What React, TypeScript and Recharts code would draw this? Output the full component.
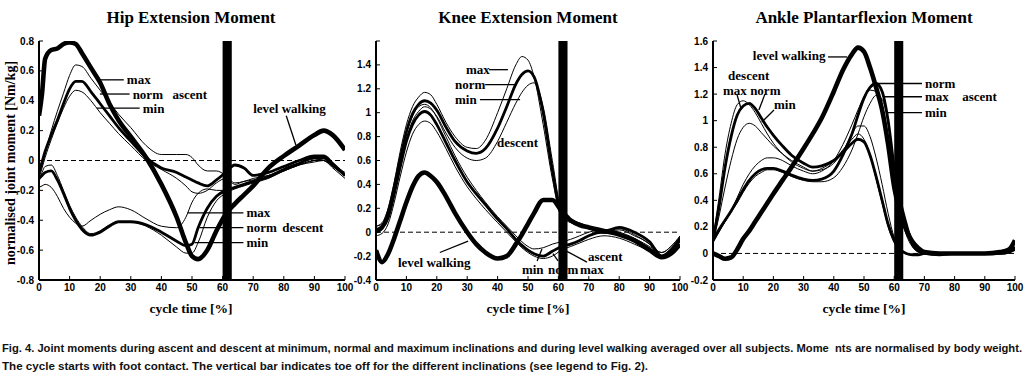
import React from 'react';
import { LineChart, Line, XAxis, YAxis, ReferenceLine, ReferenceArea, ReferenceDot } from 'recharts';

// cycle time ticks (all panels)
const X_TICKS = [0, 10, 20, 30, 40, 50, 60, 70, 80, 90, 100];
const TOE_OFF = [60, 63];

// ---------- hip ----------
const HIP_TICKS = [-0.8, -0.6, -0.4, -0.2, 0, 0.2, 0.4, 0.6, 0.8];
const HIP_X = [0, 1, 2, 4, 6, 8, 10, 12, 14, 17, 20, 23, 26, 30, 35, 40, 45, 48, 50, 52, 55, 58, 61, 64, 67, 70, 75, 80, 85, 90, 93, 96, 100];
const HIP_LEVEL = [0.3, 0.45, 0.68, 0.74, 0.75, 0.78, 0.79, 0.78, 0.72, 0.62, 0.52, 0.38, 0.27, 0.16, 0.02, -0.16, -0.38, -0.55, -0.64, -0.66, -0.6, -0.47, -0.36, -0.29, -0.23, -0.17, -0.05, 0.03, 0.1, 0.17, 0.2, 0.17, 0.07];
const HIP_ASC_MAX = [-0.1, -0.03, 0.05, 0.2, 0.33, 0.45, 0.57, 0.64, 0.63, 0.55, 0.47, 0.39, 0.31, 0.22, 0.1, 0.04, 0.04, 0.04, 0.02, -0.03, -0.07, -0.07, -0.1, -0.15, -0.14, -0.12, -0.1, -0.07, -0.03, -0.01, 0.0, -0.03, -0.08];
const HIP_ASC_NORM = [-0.08, -0.01, 0.06, 0.17, 0.27, 0.38, 0.48, 0.53, 0.53, 0.46, 0.38, 0.3, 0.22, 0.13, 0.02, -0.05, -0.08, -0.11, -0.13, -0.15, -0.17, -0.13, -0.08, -0.03, -0.05, -0.1, -0.08, -0.04, 0.0, 0.03, 0.03, -0.02, -0.1];
const HIP_ASC_MIN = [-0.12, -0.05, 0.02, 0.14, 0.25, 0.35, 0.43, 0.47, 0.46, 0.4, 0.32, 0.25, 0.18, 0.1, 0.0, -0.06, -0.12, -0.17, -0.21, -0.22, -0.2, -0.15, -0.12, -0.16, -0.14, -0.13, -0.1, -0.06, -0.02, 0.01, 0.0, -0.04, -0.1];
const HIP_DESC_MAX = [-0.18, -0.17, -0.16, -0.18, -0.24, -0.32, -0.38, -0.42, -0.44, -0.4, -0.36, -0.33, -0.31, -0.33, -0.39, -0.44, -0.45, -0.38, -0.28, -0.22, -0.19, -0.2, -0.2, -0.18, -0.16, -0.14, -0.11, -0.07, -0.03, 0.0, 0.01, -0.04, -0.1];
const HIP_DESC_NORM = [-0.12, -0.1, -0.08, -0.07, -0.13, -0.22, -0.32, -0.4, -0.46, -0.5, -0.48, -0.44, -0.41, -0.41, -0.43, -0.48, -0.54, -0.57, -0.56, -0.45, -0.32, -0.24, -0.2, -0.18, -0.16, -0.14, -0.11, -0.06, -0.02, 0.02, 0.02, -0.03, -0.1];
const HIP_DESC_MIN = [-0.14, -0.08, -0.04, -0.03, -0.1, -0.2, -0.3, -0.38, -0.44, -0.49, -0.47, -0.43, -0.41, -0.41, -0.44, -0.5, -0.58, -0.62, -0.62, -0.55, -0.38, -0.27, -0.22, -0.19, -0.17, -0.15, -0.12, -0.07, -0.03, 0.0, 0.0, -0.05, -0.12];

// ---------- knee ----------
const KNEE_TICKS = [-0.4, -0.2, 0, 0.2, 0.4, 0.6, 0.8, 1, 1.2, 1.4, 1.6];
const KNEE_X = [0, 2, 4, 6, 8, 10, 12, 14, 16, 18, 20, 23, 26, 30, 33, 36, 40, 43, 46, 48, 50, 52, 55, 58, 61, 64, 67, 70, 75, 80, 85, 90, 94, 97, 100];
const KNEE_LEVEL = [-0.15, -0.25, -0.18, -0.05, 0.1, 0.25, 0.38, 0.47, 0.5, 0.47, 0.42, 0.3, 0.16, 0.0, -0.1, -0.17, -0.22, -0.2, -0.1, -0.02, 0.07, 0.16, 0.27, 0.27, 0.18, 0.1, 0.06, 0.04, 0.01, -0.02, -0.07, -0.15, -0.21, -0.18, -0.1];
const KNEE_DESC_MAX = [0.05, 0.08, 0.2, 0.42, 0.68, 0.9, 1.05, 1.13, 1.17, 1.15, 1.07, 0.92, 0.8, 0.71, 0.7, 0.77, 1.0, 1.2, 1.4, 1.47, 1.44, 1.3, 0.9, 0.45, 0.13, 0.08, 0.05, 0.03, 0.0, 0.03, -0.02, -0.1, -0.17, -0.12, -0.04];
const KNEE_DESC_NORM = [0.02, 0.05, 0.17, 0.38, 0.62, 0.84, 0.99, 1.07, 1.1, 1.08, 1.02, 0.88, 0.76, 0.68, 0.66, 0.7, 0.87, 1.05, 1.24, 1.32, 1.35, 1.3, 1.0, 0.52, 0.15, 0.1, 0.07, 0.04, 0.01, 0.04, 0.0, -0.08, -0.2, -0.15, -0.06];
const KNEE_DESC_MIN = [0.0, 0.03, 0.14, 0.34, 0.57, 0.78, 0.93, 1.01, 1.05, 1.03, 0.97, 0.83, 0.71, 0.62, 0.6, 0.62, 0.76, 0.92, 1.08, 1.17, 1.23, 1.25, 1.05, 0.6, 0.18, 0.1, 0.06, 0.03, -0.01, 0.02, -0.03, -0.1, -0.22, -0.18, -0.08];
const KNEE_ASC_MAX = [0.05, 0.07, 0.17, 0.38, 0.62, 0.83, 0.97, 1.05, 1.07, 1.04, 0.96, 0.8, 0.64, 0.46, 0.35, 0.25, 0.13, 0.05, -0.03, -0.08, -0.12, -0.14, -0.13, -0.1, -0.08, -0.06, -0.03, 0.0, 0.02, 0.0, -0.05, -0.12, -0.17, -0.12, -0.03];
const KNEE_ASC_NORM = [0.0, 0.03, 0.12, 0.32, 0.55, 0.76, 0.9, 0.98, 1.01, 0.98, 0.9, 0.75, 0.6, 0.42, 0.32, 0.23, 0.11, 0.03, -0.06, -0.11, -0.15, -0.18, -0.2, -0.16, -0.12, -0.1, -0.07, -0.03, 0.0, -0.02, -0.07, -0.14, -0.2, -0.15, -0.05];
const KNEE_ASC_MIN = [-0.03, -0.01, 0.07, 0.25, 0.47, 0.67, 0.82, 0.9, 0.93, 0.91, 0.84, 0.7, 0.55, 0.38, 0.28, 0.19, 0.08, 0.0, -0.08, -0.13, -0.17, -0.2, -0.22, -0.2, -0.15, -0.12, -0.09, -0.06, -0.03, -0.05, -0.1, -0.16, -0.22, -0.17, -0.07];

// ---------- ankle ----------
const ANKLE_TICKS = [-0.2, 0, 0.2, 0.4, 0.6, 0.8, 1, 1.2, 1.4, 1.6];
const ANKLE_X = [0, 2, 4, 6, 8, 10, 12, 14, 16, 18, 20, 23, 26, 30, 33, 36, 40, 43, 46, 48, 50, 52, 54, 56, 58, 60, 62, 64, 66, 68, 70, 75, 80, 85, 90, 95, 98, 100];
const ANKLE_LEVEL = [0.0, -0.02, -0.04, -0.03, 0.03, 0.11, 0.17, 0.24, 0.31, 0.38, 0.45, 0.55, 0.65, 0.79, 0.9, 1.02, 1.22, 1.38, 1.5, 1.55, 1.52, 1.4, 1.25, 1.08, 0.82, 0.5, 0.3, 0.18, 0.09, 0.04, 0.01, 0.0, 0.0, 0.0, 0.0, 0.01, 0.03, 0.1];
const ANKLE_ASC_NORM = [0.1, 0.18, 0.25, 0.32, 0.4, 0.48, 0.55, 0.6, 0.63, 0.64, 0.64, 0.62, 0.59, 0.56, 0.55, 0.56, 0.62, 0.74, 0.9, 1.04, 1.17, 1.25, 1.28, 1.22, 1.0, 0.65, 0.4, 0.22, 0.07, 0.02, 0.0, -0.01, 0.0, 0.0, 0.0, 0.0, 0.01, 0.05];
const ANKLE_ASC_MAX = [0.08, 0.16, 0.24, 0.32, 0.42, 0.52, 0.6, 0.66, 0.7, 0.72, 0.72, 0.7, 0.66, 0.62, 0.6, 0.62, 0.7, 0.82, 0.97, 1.08, 1.18, 1.23, 1.22, 1.1, 0.85, 0.55, 0.3, 0.14, 0.05, 0.01, 0.0, 0.0, 0.0, 0.0, 0.0, 0.0, 0.01, 0.04];
const ANKLE_ASC_MIN = [0.09, 0.17, 0.24, 0.31, 0.38, 0.46, 0.53, 0.58, 0.61, 0.63, 0.63, 0.61, 0.58, 0.55, 0.54, 0.54, 0.57, 0.65, 0.78, 0.9, 1.03, 1.13, 1.19, 1.16, 0.98, 0.62, 0.36, 0.17, 0.06, 0.01, 0.0, -0.01, 0.0, 0.0, 0.0, 0.0, 0.01, 0.04];
const ANKLE_DESC_NORM = [0.1, 0.35, 0.65, 0.88, 1.04, 1.11, 1.13, 1.09, 1.02, 0.95, 0.89, 0.81, 0.74, 0.68, 0.65, 0.66, 0.7, 0.76, 0.83, 0.86, 0.84, 0.74, 0.58, 0.4, 0.22, 0.1, 0.03, 0.0, -0.01, -0.01, 0.0, 0.0, 0.0, 0.0, 0.0, 0.0, 0.01, 0.03];
const ANKLE_DESC_MAX = [0.12, 0.42, 0.75, 0.98, 1.12, 1.15, 1.12, 1.06, 0.98, 0.9, 0.83, 0.75, 0.69, 0.64, 0.62, 0.64, 0.7, 0.78, 0.86, 0.9, 0.86, 0.74, 0.56, 0.38, 0.2, 0.08, 0.02, 0.0, -0.01, -0.01, 0.0, 0.0, 0.0, 0.0, 0.0, 0.0, 0.01, 0.03];
const ANKLE_DESC_MIN = [0.08, 0.28, 0.5, 0.7, 0.86, 0.95, 0.98, 0.96, 0.91, 0.86, 0.81, 0.75, 0.7, 0.65, 0.62, 0.63, 0.68, 0.77, 0.9, 0.96, 0.96, 0.88, 0.72, 0.52, 0.3, 0.12, 0.03, 0.0, -0.01, -0.01, 0.0, 0.0, 0.0, 0.0, 0.0, 0.0, 0.01, 0.03];

const THIN = 1;
const NORM = 2.8;
const LEVEL = 4.6;

type Series = { key: string; values: number[]; width: number };
type Note = { x: number; y: number; text: string };
type Leader = [number, number, number, number];

const SERIF = '"Liberation Serif", "Times New Roman", serif';
const SANS = '"Liberation Sans", Arial, sans-serif';

function noteShape(text: string) {
  return (p: any) => (
    <text x={p.cx} y={p.cy} dominantBaseline="central" fontFamily={SERIF} fontWeight="bold" fontSize={13} fill="#000">
      {text}
    </text>
  );
}

function fmt(hideTop: number | null) {
  return (v: number) => (hideTop !== null && v === hideTop ? '' : String(Math.round(v * 10) / 10));
}

interface PanelProps {
  plotLeft: number;
  plotRight: number;
  xs: number[];
  series: Series[];
  yTicks: number[];
  hideTop: number | null;
  notes: Note[];
  leaders: Leader[];
}

function Panel({ plotLeft, plotRight, xs, series, yTicks, hideTop, notes, leaders }: PanelProps) {
  const rows = xs.map((x, i) => {
    const r: Record<string, number> = { x };
    series.forEach((s) => {
      r[s.key] = s.values[i];
    });
    return r;
  });
  const left = plotLeft - 40;
  const width = plotRight - left + 12;
  const yDomain: [number, number] = [yTicks[0], yTicks[yTicks.length - 1]];
  const axisLine = { stroke: '#000', strokeWidth: 2 };
  const tickStyle = { fill: '#000', fontSize: 10, fontWeight: 'bold', fontFamily: SANS };

  return (
    <div style={{ position: 'absolute', left, top: 0 }}>
      <LineChart width={width} height={372} data={rows} margin={{ top: 41, right: 12, bottom: 62, left: 10 }}>
        <XAxis
          dataKey="x"
          type="number"
          domain={[0, 100]}
          ticks={X_TICKS}
          interval={0}
          allowDataOverflow
          height={30}
          tickSize={-4}
          tickMargin={8}
          axisLine={axisLine}
          tickLine={{ stroke: '#000' }}
          tick={tickStyle}
        />
        <XAxis
          xAxisId="top"
          orientation="top"
          dataKey="x"
          type="number"
          domain={[0, 100]}
          ticks={X_TICKS}
          interval={0}
          allowDataOverflow
          height={0}
          tickSize={-4}
          axisLine={axisLine}
          tickLine={{ stroke: '#000' }}
          tick={false}
        />
        <YAxis
          type="number"
          domain={yDomain}
          ticks={yTicks}
          interval={0}
          allowDataOverflow
          width={30}
          tickSize={-4}
          tickMargin={9}
          axisLine={axisLine}
          tickLine={{ stroke: '#000' }}
          tick={tickStyle}
          tickFormatter={fmt(hideTop)}
        />
        <YAxis
          yAxisId="right"
          orientation="right"
          type="number"
          domain={yDomain}
          ticks={yTicks}
          interval={0}
          allowDataOverflow
          width={0}
          tickSize={-4}
          axisLine={axisLine}
          tickLine={{ stroke: '#000' }}
          tick={false}
        />
        <ReferenceLine y={0} stroke="#000" strokeWidth={1} strokeDasharray="5 3" />
        {leaders.map((l, i) => (
          <ReferenceLine
            key={'l' + i}
            segment={[{ x: l[0], y: l[1] }, { x: l[2], y: l[3] }]}
            stroke="#000"
            strokeWidth={1.3}
            ifOverflow="visible"
          />
        ))}
        {series.map((s) => (
          <Line
            key={s.key}
            dataKey={s.key}
            type="monotone"
            stroke="#000"
            strokeWidth={s.width}
            dot={false}
            activeDot={false}
            isAnimationActive={false}
          />
        ))}
        <ReferenceArea x1={TOE_OFF[0]} x2={TOE_OFF[1]} fill="#000" fillOpacity={1} stroke="none" ifOverflow="visible" />
        {notes.map((n, i) => (
          <ReferenceDot key={'n' + i} x={n.x} y={n.y} r={0} ifOverflow="visible" shape={noteShape(n.text)} />
        ))}
      </LineChart>
    </div>
  );
}

const HIP_SERIES: Series[] = [
  { key: 'ascMax', values: HIP_ASC_MAX, width: THIN },
  { key: 'ascMin', values: HIP_ASC_MIN, width: THIN },
  { key: 'descMax', values: HIP_DESC_MAX, width: THIN },
  { key: 'descMin', values: HIP_DESC_MIN, width: THIN },
  { key: 'ascNorm', values: HIP_ASC_NORM, width: NORM },
  { key: 'descNorm', values: HIP_DESC_NORM, width: NORM },
  { key: 'level', values: HIP_LEVEL, width: LEVEL },
];
const KNEE_SERIES: Series[] = [
  { key: 'ascMax', values: KNEE_ASC_MAX, width: THIN },
  { key: 'ascMin', values: KNEE_ASC_MIN, width: THIN },
  { key: 'descMax', values: KNEE_DESC_MAX, width: THIN },
  { key: 'descMin', values: KNEE_DESC_MIN, width: THIN },
  { key: 'ascNorm', values: KNEE_ASC_NORM, width: NORM },
  { key: 'descNorm', values: KNEE_DESC_NORM, width: NORM },
  { key: 'level', values: KNEE_LEVEL, width: LEVEL },
];
const ANKLE_SERIES: Series[] = [
  { key: 'ascMax', values: ANKLE_ASC_MAX, width: THIN },
  { key: 'ascMin', values: ANKLE_ASC_MIN, width: THIN },
  { key: 'descMax', values: ANKLE_DESC_MAX, width: THIN },
  { key: 'descMin', values: ANKLE_DESC_MIN, width: THIN },
  { key: 'ascNorm', values: ANKLE_ASC_NORM, width: NORM },
  { key: 'descNorm', values: ANKLE_DESC_NORM, width: NORM },
  { key: 'level', values: ANKLE_LEVEL, width: LEVEL },
];

const HIP_NOTES: Note[] = [
  { x: 28.7, y: 0.54, text: 'max' },
  { x: 30.6, y: 0.445, text: 'norm' },
  { x: 33.9, y: 0.35, text: 'min' },
  { x: 43.6, y: 0.445, text: 'ascent' },
  { x: 70, y: 0.35, text: 'level walking' },
  { x: 67.8, y: -0.35, text: 'max' },
  { x: 67.8, y: -0.45, text: 'norm' },
  { x: 67.8, y: -0.55, text: 'min' },
  { x: 79.5, y: -0.45, text: 'descent' },
];
const HIP_LEADERS: Leader[] = [
  [18.9, 0.54, 27.7, 0.54],
  [19.9, 0.445, 29.6, 0.445],
  [18.9, 0.35, 32.9, 0.35],
  [80.8, 0.3, 84, 0.1],
  [48.5, -0.35, 66.8, -0.35],
  [52.4, -0.45, 66.8, -0.45],
  [50.8, -0.55, 66.8, -0.55],
];
const KNEE_NOTES: Note[] = [
  { x: 29.6, y: 1.36, text: 'max' },
  { x: 26, y: 1.235, text: 'norm' },
  { x: 26, y: 1.11, text: 'min' },
  { x: 39.8, y: 0.75, text: 'descent' },
  { x: 7.2, y: -0.25, text: 'level walking' },
  { x: 48, y: -0.31, text: 'min' },
  { x: 56.6, y: -0.31, text: 'norm' },
  { x: 67.1, y: -0.31, text: 'max' },
  { x: 69.7, y: -0.2, text: 'ascent' },
];
const KNEE_LEADERS: Leader[] = [
  [37.2, 1.36, 43.4, 1.36],
  [35.9, 1.235, 46.4, 1.235],
  [34.2, 1.11, 47.4, 1.11],
  [21, -0.17, 30.3, -0.075],
  [53, -0.24, 54.6, -0.14],
  [59.9, -0.24, 58.2, -0.18],
  [69.4, -0.25, 62.8, -0.16],
];
const ANKLE_NOTES: Note[] = [
  { x: 13.2, y: 1.49, text: 'level walking' },
  { x: 5, y: 1.34, text: 'descent' },
  { x: 3.3, y: 1.23, text: 'max' },
  { x: 12.3, y: 1.23, text: 'norm' },
  { x: 20.2, y: 1.12, text: 'min' },
  { x: 70.2, y: 1.28, text: 'norm' },
  { x: 70.2, y: 1.18, text: 'max' },
  { x: 70.2, y: 1.06, text: 'min' },
  { x: 82.5, y: 1.18, text: 'ascent' },
];
const ANKLE_LEADERS: Leader[] = [
  [38.1, 1.48, 44.4, 1.48],
  [7.9, 1.2, 9.3, 1.09],
  [17.2, 1.2, 15.2, 1.08],
  [20.2, 1.08, 16.2, 0.99],
  [53.6, 1.28, 69.2, 1.28],
  [56.5, 1.18, 69.2, 1.18],
  [57.5, 1.06, 69.2, 1.06],
];

const CAPTION_1 =
  'Fig. 4. Joint moments during ascent and descent at minimum, normal and maximum inclinations and during level walking averaged over all subjects. Mome  nts are normalised by body weight.';
const CAPTION_2 =
  'The cycle starts with foot contact. The vertical bar indicates toe off for the different inclinations (see legend to Fig. 2).';

export default function App() {
  const title = { fontFamily: SERIF, fontWeight: 'bold' as const, fontSize: 17, fill: '#000' };
  const axisTitle = { fontFamily: SERIF, fontWeight: 'bold' as const, fontSize: 13.5, fill: '#000' };
  return (
    <div style={{ position: 'absolute', left: 0, top: 0, width: 1024, height: 372, background: '#fff', overflow: 'hidden' }}>
      <svg width={1024} height={372} style={{ position: 'absolute', left: 0, top: 0 }}>
        <text x={191} y={17} textAnchor="middle" dominantBaseline="central" {...title}>Hip Extension Moment</text>
        <text x={528} y={17} textAnchor="middle" dominantBaseline="central" {...title}>Knee Extension Moment</text>
        <text x={864} y={17} textAnchor="middle" dominantBaseline="central" {...title}>Ankle Plantarflexion Moment</text>
        <text x={191} y={308} textAnchor="middle" dominantBaseline="central" {...axisTitle}>cycle time [%]</text>
        <text x={528} y={308} textAnchor="middle" dominantBaseline="central" {...axisTitle}>cycle time [%]</text>
        <text x={864} y={308} textAnchor="middle" dominantBaseline="central" {...axisTitle}>cycle time [%]</text>
        <text
          x={0}
          y={0}
          transform="translate(10,163) rotate(-90)"
          textAnchor="middle"
          dominantBaseline="central"
          {...axisTitle}
          fontSize={14}
        >
          normalised joint moment [Nm/kg]
        </text>
        <text x={2} y={348} dominantBaseline="central" fontFamily={SANS} fontWeight="bold" fontSize={11} fill="#111"
          textLength={1020} lengthAdjust="spacingAndGlyphs" style={{ whiteSpace: 'pre' }}>
          {CAPTION_1}
        </text>
        <text x={2} y={366} dominantBaseline="central" fontFamily={SANS} fontWeight="bold" fontSize={11} fill="#111"
          textLength={646} lengthAdjust="spacingAndGlyphs">
          {CAPTION_2}
        </text>
      </svg>
      <Panel plotLeft={39} plotRight={345} xs={HIP_X} series={HIP_SERIES} yTicks={HIP_TICKS} hideTop={null} notes={HIP_NOTES} leaders={HIP_LEADERS} />
      <Panel plotLeft={376} plotRight={680} xs={KNEE_X} series={KNEE_SERIES} yTicks={KNEE_TICKS} hideTop={1.6} notes={KNEE_NOTES} leaders={KNEE_LEADERS} />
      <Panel plotLeft={713} plotRight={1015} xs={ANKLE_X} series={ANKLE_SERIES} yTicks={ANKLE_TICKS} hideTop={null} notes={ANKLE_NOTES} leaders={ANKLE_LEADERS} />
    </div>
  );
}
